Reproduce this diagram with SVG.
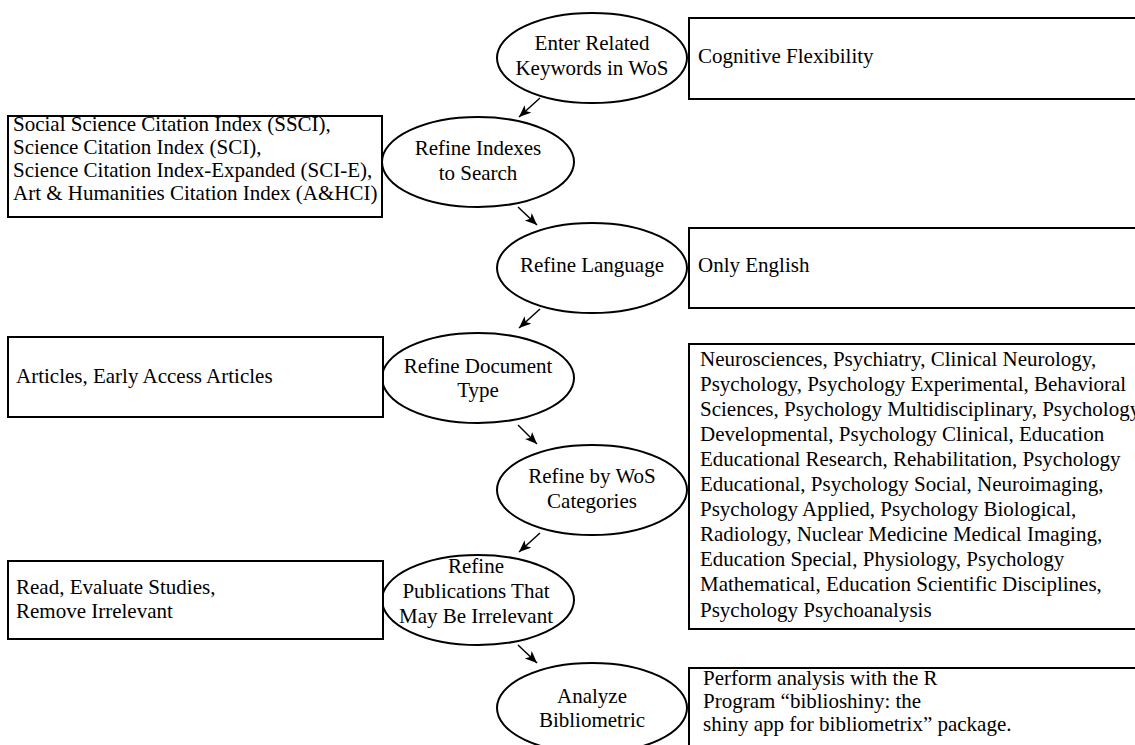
<svg xmlns="http://www.w3.org/2000/svg" width="1135" height="745" viewBox="0 0 1135 745">
<style>
.n{fill:#fff;stroke:#000;stroke-width:2}
.t{font-family:"Liberation Serif","Times New Roman",serif;font-size:21px;fill:#000}
.c{text-anchor:middle}
.e{stroke:#000;stroke-width:1.5;fill:none;marker-end:url(#ah)}
</style>
<defs>
<marker id="ah" markerUnits="userSpaceOnUse" markerWidth="14" markerHeight="12" refX="12" refY="5" orient="auto">
<path d="M0,0 L12,5 L0,10 L3,5 z" fill="#000"/>
</marker>
</defs>
<rect width="1135" height="745" fill="#fff"/>
<g id="connectors">
<line class="e" x1="540" y1="98" x2="519" y2="117"/>
<line class="e" x1="518" y1="207" x2="537" y2="225"/>
<line class="e" x1="540" y1="309" x2="519" y2="328"/>
<line class="e" x1="518" y1="425" x2="537" y2="444"/>
<line class="e" x1="540" y1="533" x2="519" y2="552"/>
<line class="e" x1="518" y1="645" x2="537" y2="663"/>
</g>
<g id="n1">
<ellipse class="n" cx="592" cy="58" rx="95" ry="45"/>
<text class="t c" x="592" y="50">Enter Related</text>
<text class="t c" x="592" y="75">Keywords in WoS</text>
</g>
<g id="b1">
<rect class="n" x="689" y="18" width="460" height="81"/>
<text class="t" x="698" y="63">Cognitive Flexibility</text>
</g>
<g id="n2">
<ellipse class="n" cx="478" cy="162" rx="96" ry="45"/>
<text class="t c" x="478" y="155">Refine Indexes</text>
<text class="t c" x="478" y="180">to Search</text>
</g>
<g id="b2">
<rect class="n" x="8" y="116" width="374" height="101"/>
<text class="t" x="13" y="131">Social Science Citation Index (SSCI),</text>
<text class="t" x="13" y="154">Science Citation Index (SCI),</text>
<text class="t" x="13" y="177">Science Citation Index-Expanded (SCI-E),</text>
<text class="t" x="13" y="200">Art &amp; Humanities Citation Index (A&amp;HCI)</text>
</g>
<g id="n3">
<ellipse class="n" cx="592" cy="268" rx="95" ry="45"/>
<text class="t c" x="592" y="272">Refine Language</text>
</g>
<g id="b3">
<rect class="n" x="689" y="228" width="460" height="80"/>
<text class="t" x="698" y="272">Only English</text>
</g>
<g id="n4">
<ellipse class="n" cx="478" cy="378" rx="96" ry="45"/>
<text class="t c" x="478" y="373">Refine Document</text>
<text class="t c" x="478" y="397">Type</text>
</g>
<g id="b4">
<rect class="n" x="8" y="337" width="375" height="80"/>
<text class="t" x="16" y="383">Articles, Early Access Articles</text>
</g>
<g id="n5">
<ellipse class="n" cx="592" cy="490" rx="95" ry="45"/>
<text class="t c" x="592" y="483">Refine by WoS</text>
<text class="t c" x="592" y="508">Categories</text>
</g>
<g id="b5">
<rect class="n" x="689" y="344" width="460" height="285"/>
<text class="t" x="700" y="366">Neurosciences, Psychiatry, Clinical Neurology,</text>
<text class="t" x="700" y="391">Psychology, Psychology Experimental, Behavioral</text>
<text class="t" x="700" y="416">Sciences, Psychology Multidisciplinary, Psychology</text>
<text class="t" x="700" y="441">Developmental, Psychology Clinical, Education</text>
<text class="t" x="700" y="466">Educational Research, Rehabilitation, Psychology</text>
<text class="t" x="700" y="491">Educational, Psychology Social, Neuroimaging,</text>
<text class="t" x="700" y="516">Psychology Applied, Psychology Biological,</text>
<text class="t" x="700" y="541">Radiology, Nuclear Medicine Medical Imaging,</text>
<text class="t" x="700" y="566">Education Special, Physiology, Psychology</text>
<text class="t" x="700" y="591">Mathematical, Education Scientific Disciplines,</text>
<text class="t" x="700" y="617">Psychology Psychoanalysis</text>
</g>
<g id="n6">
<ellipse class="n" cx="478" cy="600" rx="96" ry="45"/>
<text class="t c" x="476" y="573">Refine</text>
<text class="t c" x="476" y="598">Publications That</text>
<text class="t c" x="476" y="623">May Be Irrelevant</text>
</g>
<g id="b6">
<rect class="n" x="8" y="561" width="375" height="78"/>
<text class="t" x="16" y="594">Read, Evaluate Studies,</text>
<text class="t" x="16" y="618">Remove Irrelevant</text>
</g>
<g id="n7">
<ellipse class="n" cx="592" cy="708" rx="95" ry="45"/>
<text class="t c" x="592" y="703">Analyze</text>
<text class="t c" x="592" y="727">Bibliometric</text>
</g>
<g id="b7">
<rect class="n" x="689" y="668" width="460" height="100"/>
<text class="t" x="703" y="685">Perform analysis with the R</text>
<text class="t" x="703" y="708">Program “biblioshiny: the</text>
<text class="t" x="703" y="731">shiny app for bibliometrix” package.</text>
</g>
</svg>
